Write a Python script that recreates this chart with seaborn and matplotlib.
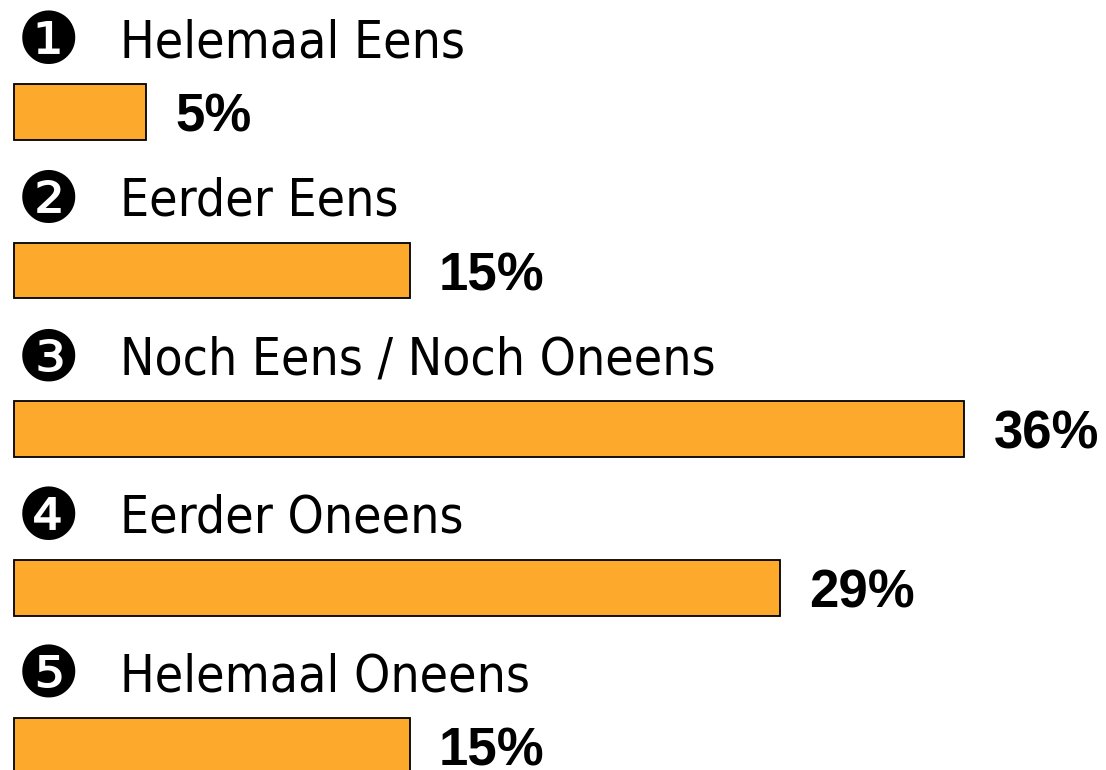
import matplotlib
matplotlib.use('Agg')
import matplotlib.pyplot as plt
import pandas as pd
import seaborn as sns

# Data
markers = ['❶', '❷', '❸', '❹', '❺']
categories = ['Helemaal Eens', 'Eerder Eens', 'Noch Eens / Noch Oneens',
              'Eerder Oneens', 'Helemaal Oneens']
percentages = [5, 15, 36, 29, 15]

df = pd.DataFrame({'categorie': categories, 'pct': percentages})

sns.set_theme(style='white')
plt.rcParams['font.family'] = ['DejaVu Sans']

fig = plt.figure(figsize=(11.06, 7.70), dpi=100)
ax = fig.add_axes([0, 0, 1, 1])

sns.barplot(data=df, x='pct', y='categorie', orient='h', color='#FDA92C',
            saturation=1, width=0.353, edgecolor='black', linewidth=1.3, ax=ax)

ax.set_xlim(-0.53, 41.36)
ax.set_ylim(4.151, -0.7066)
ax.axis('off')

for i, (m, cat, p) in enumerate(zip(markers, categories, percentages)):
    # nummer in cirkel + categorie boven de balk
    ax.text(1.29, i - 0.43, m, fontsize=51, va='center', ha='center',
            color='black')
    ax.text(4.02, i - 0.435, cat, fontsize=37, va='center', ha='left',
            fontstretch='condensed', color='black')
    # percentage naast de balk
    ax.text(p + 1.1, i + 0.035, f'{p}%', fontsize=38, fontweight='bold',
            va='center', ha='left', family='Liberation Sans', color='black')

plt.savefig('out.png', dpi=100)
plt.close()
